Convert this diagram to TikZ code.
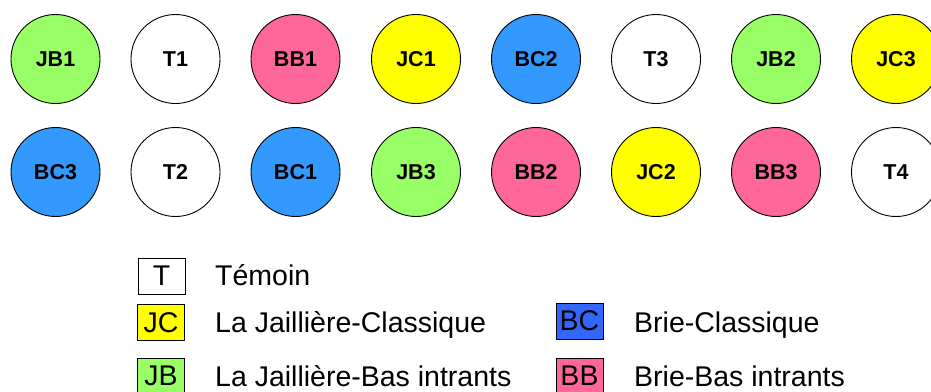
\documentclass[tikz,border=0pt]{standalone}
\usepackage{fontspec}
\setmainfont{Liberation Sans}
\definecolor{cgreen}{HTML}{99FF66}
\definecolor{cpink}{HTML}{FF6699}
\definecolor{cyellow}{HTML}{FFFF00}
\definecolor{cblue}{HTML}{3399FF}
\definecolor{cbluekey}{HTML}{3366FF}
\tikzset{
  plot/.style={circle, draw=black, line width=0.9pt, minimum size=89pt, inner sep=0pt,
    font=\fontsize{21.5}{24}\selectfont\bfseries},
  keybox/.style={rectangle, draw=black, line width=0.9pt, minimum width=47pt, minimum height=36pt,
    inner sep=0pt, font=\fontsize{28.5}{30}\selectfont},
  keytext/.style={anchor=base west, inner sep=0pt, font=\fontsize{28.5}{30}\selectfont},
}
\begin{document}
\begin{tikzpicture}[x=1pt,y=-1pt]
\useasboundingbox (0,0) rectangle (931,391);
% first row of plots
\node[plot, fill=cgreen]  (jb1) at (55.5,59) {JB1};
\node[plot, fill=white]   (t1)  at (175.5,59) {T1};
\node[plot, fill=cpink]   (bb1) at (295.5,59) {BB1};
\node[plot, fill=cyellow] (jc1) at (416,59) {JC1};
\node[plot, fill=cblue]   (bc2) at (536,59) {BC2};
\node[plot, fill=white]   (t3)  at (656,59) {T3};
\node[plot, fill=cgreen]  (jb2) at (776,59) {JB2};
\node[plot, fill=cyellow] (jc3) at (896,59) {JC3};
% second row of plots
\node[plot, fill=cblue]   (bc3) at (55.5,172) {BC3};
\node[plot, fill=white]   (t2)  at (175.5,172) {T2};
\node[plot, fill=cblue]   (bc1) at (295.5,172) {BC1};
\node[plot, fill=cgreen]  (jb3) at (416,172) {JB3};
\node[plot, fill=cpink]   (bb2) at (536,172) {BB2};
\node[plot, fill=cyellow] (jc2) at (656,172) {JC2};
\node[plot, fill=cpink]   (bb3) at (776,172) {BB3};
\node[plot, fill=white]   (t4)  at (896,172) {T4};
% legend
\node[keybox, fill=white]   (kt)  at (161.5,276) {T};
\node[keytext] (lt) at (215,285) {Témoin};
\node[keybox, fill=cyellow] (kjc) at (161,322.5) {JC};
\node[keytext] (ljc) at (215,332) {La Jaillière-Classique};
\node[keybox, fill=cgreen]  (kjb) at (161,376) {JB};
\node[keytext] (ljb) at (215,386) {La Jaillière-Bas intrants};
\node[keybox, fill=cbluekey] (kbc) at (579.5,321) {BC};
\node[keytext] (lbc) at (634,332) {Brie-Classique};
\node[keybox, fill=cpink]   (kbb) at (579.5,376) {BB};
\node[keytext] (lbb) at (634,386) {Brie-Bas intrants};
\end{tikzpicture}
\end{document}
